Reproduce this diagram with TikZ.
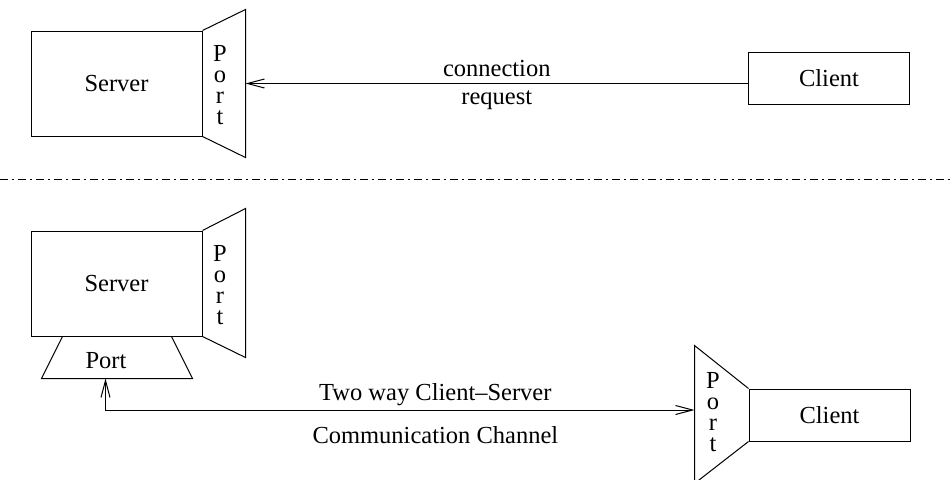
\documentclass[tikz,border=0pt]{standalone}
\usepackage{fontspec}
\setmainfont{Liberation Serif}
\usetikzlibrary{positioning,arrows.meta,calc}

\begin{document}
\begin{tikzpicture}[
  x=1pt, y=-1pt,
  font=\fontsize{24.5}{29}\selectfont,
  line width=1pt,
  srvbox/.style={draw, inner sep=0pt, minimum width=171pt, minimum height=105pt},
  clibox/.style={draw, inner sep=0pt, minimum width=161pt, minimum height=52pt},
  letter/.style={anchor=base, inner sep=0pt},
  arr/.style={-{Straight Barb[length=17pt, width=9pt]}},
  arrboth/.style={{Straight Barb[length=17pt, width=9pt]}-{Straight Barb[length=17pt, width=9pt]}},
  sep/.style={dash pattern=on 8pt off 4pt on 2pt off 4pt, line width=0.8pt}
]
\useasboundingbox (0,0) rectangle (952,479);
\clip (0,0) rectangle (952,479);

% top: connection request
\node[srvbox] (serverA) at (116.5,83.5) {Server};
\draw (serverA.north east) -- ($(serverA.north east)+(43,-21)$)
  -- ($(serverA.south east)+(43,21)$) -- (serverA.south east);
\foreach \l [count=\i] in {P,o,r,t}
  \node[letter] (portA-\i) at (220,{61+21.3*(\i-1)}) {\l};
\coordinate (pA) at ($(serverA.east)+(43,0)$);
\node[clibox] (clientA) at (829,78) {Client};
\draw[arr] ([yshift=-5.5pt]clientA.west) -- node[above=3pt] {connection} node[below=3pt] {request} (pA);

% separator
\draw[sep] (0,179) -- (952,179);

% bottom: two way channel
\node[srvbox] (serverB) at (116.5,283.5) {Server};
\draw (serverB.north east) -- ($(serverB.north east)+(43,-22)$)
  -- ($(serverB.south east)+(43,21)$) -- (serverB.south east);
\foreach \l [count=\i] in {P,o,r,t}
  \node[letter] (portB-\i) at (220,{261+21.3*(\i-1)}) {\l};
\draw ($(serverB.south west)+(32,0)$) -- ($(serverB.south west)+(11,42)$)
  -- ($(serverB.south east)+(-10,42)$) -- ($(serverB.south east)+(-31,0)$);
\node (portC) at (106,361) {Port};
\coordinate (pC) at ($(serverB.south west)+(75,42)$);

\node[clibox] (clientB) at (829.5,415) {Client};
\draw (clientB.north west) -- ($(clientB.north west)+(-54,-43)$)
  -- ($(clientB.south west)+(-54,42)$) -- (clientB.south west);
\foreach \l [count=\i] in {P,o,r,t}
  \node[letter] (portD-\i) at (713,{388+21.3*(\i-1)}) {\l};
\coordinate (pD) at ($(clientB.west)+(-54,-5)$);

\draw[arrboth] (pC) |- node[pos=0.78, above] {Two way Client--Server}
  node[pos=0.78, below=13pt] {Communication Channel} (pD);

\end{tikzpicture}
\end{document}
